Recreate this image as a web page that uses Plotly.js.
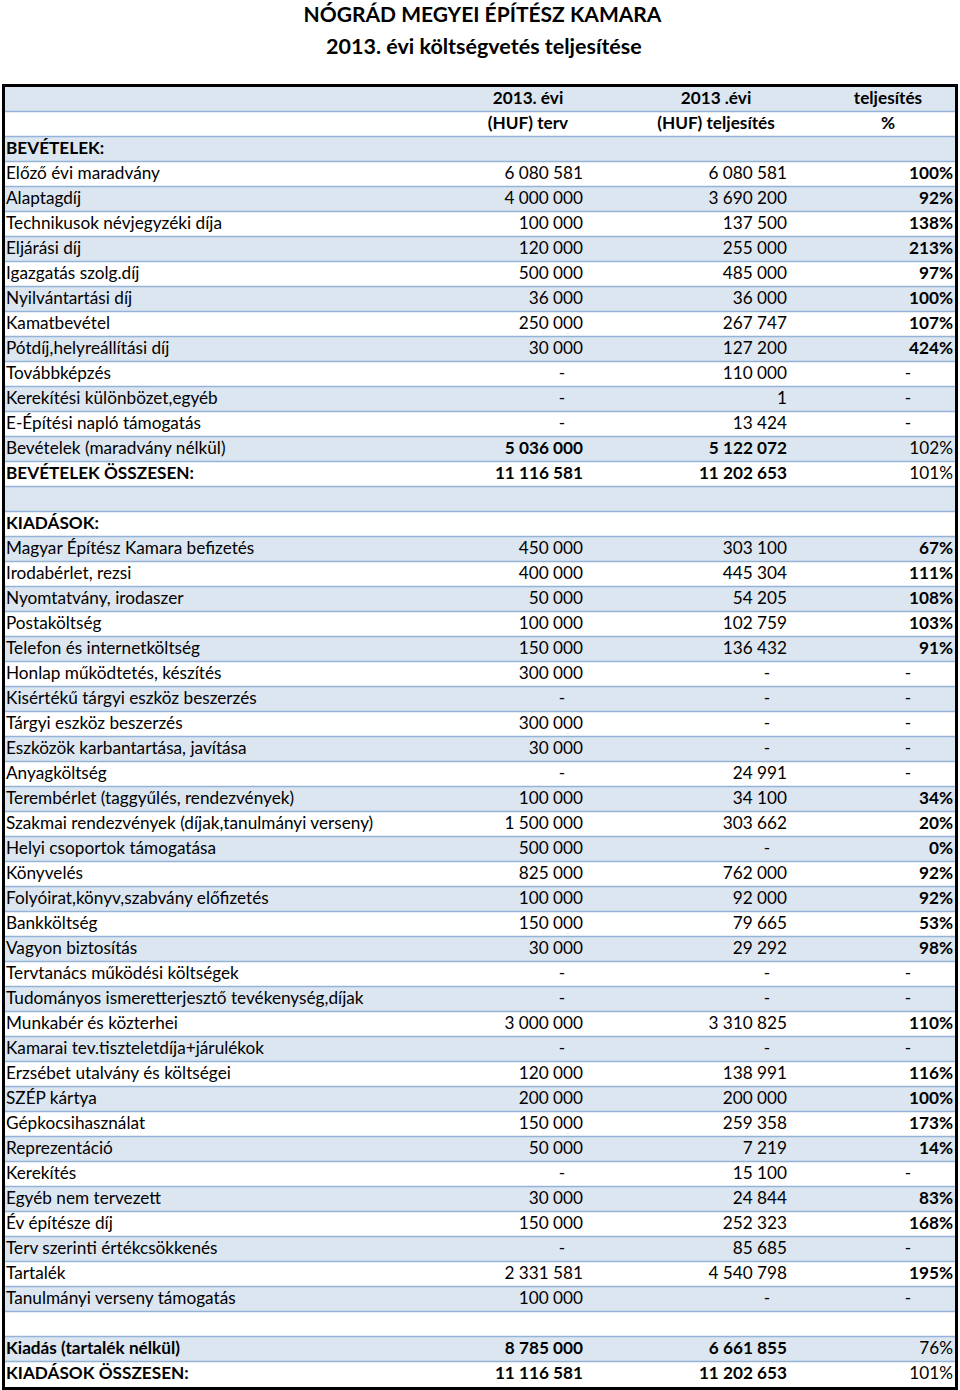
<!DOCTYPE html>
<html><head><meta charset="utf-8">
<script src="https://cdn.plot.ly/plotly-3.0.1.min.js"></script>
<style>html,body{margin:0;padding:0;background:#fff}</style>
</head><body><div id="chart" style="width:960px;height:1390px"></div>
<script>
const titleLine1 = "NÓGRÁD MEGYEI ÉPÍTÉSZ KAMARA";
const titleLine2 = "2013. évi költségvetés teljesítése";
const headerRow1 = ["2013. évi", "2013 .évi", "teljesítés"];
const headerRow2 = ["(HUF) terv", "(HUF) teljesítés", "%"];

const labels = [
  "BEVÉTELEK:",
  "Előző évi maradvány", "Alaptagdíj", "Technikusok névjegyzéki díja", "Eljárási díj",
  "Igazgatás szolg.díj", "Nyilvántartási díj", "Kamatbevétel", "Pótdíj,helyreállítási díj",
  "Továbbképzés", "Kerekítési különbözet,egyéb", "E-Építési napló támogatás",
  "Bevételek (maradvány nélkül)", "BEVÉTELEK ÖSSZESEN:",
  "",
  "KIADÁSOK:",
  "Magyar Építész Kamara befizetés", "Irodabérlet, rezsi", "Nyomtatvány, irodaszer",
  "Postaköltség", "Telefon és internetköltség", "Honlap működtetés, készítés",
  "Kisértékű tárgyi eszköz beszerzés", "Tárgyi eszköz beszerzés",
  "Eszközök karbantartása, javítása", "Anyagköltség",
  "Terembérlet (taggyűlés, rendezvények)", "Szakmai rendezvények (díjak,tanulmányi verseny)",
  "Helyi csoportok támogatása", "Könyvelés", "Folyóirat,könyv,szabvány előfizetés",
  "Bankköltség", "Vagyon biztosítás", "Tervtanács működési költségek",
  "Tudományos ismeretterjesztő tevékenység,díjak", "Munkabér és közterhei",
  "Kamarai tev.tiszteletdíja+járulékok", "Erzsébet utalvány és költségei", "SZÉP kártya",
  "Gépkocsihasználat", "Reprezentáció", "Kerekítés", "Egyéb nem tervezett",
  "Év építésze díj", "Terv szerinti értékcsökkenés", "Tartalék", "Tanulmányi verseny támogatás",
  "",
  "Kiadás (tartalék nélkül)", "KIADÁSOK ÖSSZESEN:"
];

const rowKinds = [
  "section",
  "item","item","item","item","item","item","item","item","item","item","item",
  "subtotal","total",
  "blank",
  "section",
  "item","item","item","item","item","item","item","item","item","item",
  "item","item","item","item","item","item","item","item","item","item",
  "item","item","item","item","item","item","item","item","item","item","item",
  "blank",
  "total","total"
];

const plan = [
  null,
  6080581, 4000000, 100000, 120000, 500000, 36000, 250000, 30000, null, null, null,
  5036000, 11116581,
  null,
  null,
  450000, 400000, 50000, 100000, 150000, 300000, null, 300000, 30000, null,
  100000, 1500000, 500000, 825000, 100000, 150000, 30000, null, null, 3000000,
  null, 120000, 200000, 150000, 50000, null, 30000, 150000, null, 2331581, 100000,
  null,
  8785000, 11116581
];

const actual = [
  null,
  6080581, 3690200, 137500, 255000, 485000, 36000, 267747, 127200, 110000, 1, 13424,
  5122072, 11202653,
  null,
  null,
  303100, 445304, 54205, 102759, 136432, null, null, null, null, 24991,
  34100, 303662, null, 762000, 92000, 79665, 29292, null, null, 3310825,
  null, 138991, 200000, 259358, 7219, 15100, 24844, 252323, 85685, 4540798, null,
  null,
  6661855, 11202653
];

const pct = [
  null,
  100, 92, 138, 213, 97, 100, 107, 424, null, null, null,
  102, 101,
  null,
  null,
  67, 111, 108, 103, 91, null, null, null, null, null,
  34, 20, 0, 92, 92, 53, 98, null, null, 110,
  null, 116, 100, 173, 14, null, 83, 168, null, 195, null,
  null,
  76, 101
];

// ---- layout geometry ----
const W = 960, H = 1390;
const TOP = 87, ROW_H = 25;
const FONT = 'Lato, "Open Sans", "Liberation Sans", sans-serif';
const FS = 17.2;
const colRight = [583, 787, 953];
const colDash = [562, 767, 908];
const headCenter = [528, 716, 888];
const LABEL_X = 6;

function fmt(n) { return String(n).replace(/\B(?=(\d{3})+(?!\d))/g, '\u00a0'); }
function rowY(i) { return TOP + ROW_H * (i + 0.5) + 0.5; }

const shapes = [];
const nRows = labels.length + 2;
for (let i = 0; i < nRows; i++) {
  if (i % 2 === 0) {
    shapes.push({type:'rect', xref:'x', yref:'y', x0:3, x1:957, y0:TOP + ROW_H*i, y1:TOP + ROW_H*(i+1),
      fillcolor:'#dce6f1', line:{width:0}, layer:'below'});
  }
}
for (let i = 1; i < nRows; i++) {
  shapes.push({type:'line', xref:'x', yref:'y', x0:3, x1:957, y0:TOP + ROW_H*i - 0.5, y1:TOP + ROW_H*i - 0.5,
    line:{color:'#95b3d7', width:1.5}, layer:'below'});
}
shapes.push({type:'rect', xref:'x', yref:'y', x0:3.5, x1:956.5, y0:TOP-1.5, y1:TOP + ROW_H*nRows + 1.5,
  fillcolor:'rgba(0,0,0,0)', line:{color:'#000', width:3}, layer:'above'});

const traces = [];

// header rows
(function() {
  const x = [], y = [], t = [];
  for (let c = 0; c < 3; c++) {
    x.push(headCenter[c]); y.push(rowY(0)); t.push('<b>' + headerRow1[c] + '</b>');
    x.push(headCenter[c]); y.push(rowY(1)); t.push('<b>' + headerRow2[c] + '</b>');
  }
  traces.push({type:'scatter', mode:'text', x:x, y:y, text:t, textposition:'middle center',
    textfont:{family:FONT, size:FS, color:'#000'}, hoverinfo:'skip', cliponaxis:false, showlegend:false});
})();

// label column
(function() {
  const x = [], y = [], t = [];
  labels.forEach((lab, k) => {
    if (!lab) return;
    const bold = rowKinds[k] === 'section' || rowKinds[k] === 'total';
    x.push(LABEL_X); y.push(rowY(k + 2)); t.push(bold ? '<b>' + lab + '</b>' : lab);
  });
  traces.push({type:'scatter', mode:'text', x:x, y:y, text:t, textposition:'middle right',
    textfont:{family:FONT, size:FS, color:'#000'}, hoverinfo:'skip', cliponaxis:false, showlegend:false});
})();

// value columns
[plan, actual, pct].forEach((arr, c) => {
  const x = [], y = [], t = [], pos = [];
  arr.forEach((v, k) => {
    const kind = rowKinds[k];
    if (kind === 'section' || kind === 'blank') return;
    const yy = rowY(k + 2);
    if (v === null) {
      x.push(colDash[c]); y.push(yy); t.push('-'); pos.push('middle center');
      return;
    }
    let s = c === 2 ? v + '%' : fmt(v);
    let bold;
    if (c === 2) bold = kind === 'item';
    else bold = kind !== 'item';
    x.push(colRight[c]); y.push(yy); t.push(bold ? '<b>' + s + '</b>' : s); pos.push('middle left');
  });
  traces.push({type:'scatter', mode:'text', x:x, y:y, text:t, textposition:pos,
    textfont:{family:FONT, size:FS, color:'#000'}, hoverinfo:'skip', cliponaxis:false, showlegend:false});
});

const layout = {
  width: W, height: H,
  margin: {l:0, r:0, t:0, b:0},
  paper_bgcolor: '#fff', plot_bgcolor: '#fff',
  showlegend: false,
  title: {text: '<b>' + titleLine1 + '</b>', x: 482.5 / W, xanchor: 'center',
    y: 1 - 15 / H, yanchor: 'middle', font: {family: FONT, size: 21, color: '#000'}},
  xaxis: {range: [0, W], visible: false, fixedrange: true},
  yaxis: {range: [H, 0], visible: false, fixedrange: true},
  shapes: shapes,
  annotations: [{text: '<b>' + titleLine2 + '</b>', xref: 'x', yref: 'y', x: 484, y: 46,
    xanchor: 'center', yanchor: 'middle', showarrow: false, font: {family: FONT, size: 21.5, color: '#000'}}]
};

Plotly.newPlot('chart', traces, layout, {displayModeBar: false, staticPlot: true});
</script>
</body></html>
